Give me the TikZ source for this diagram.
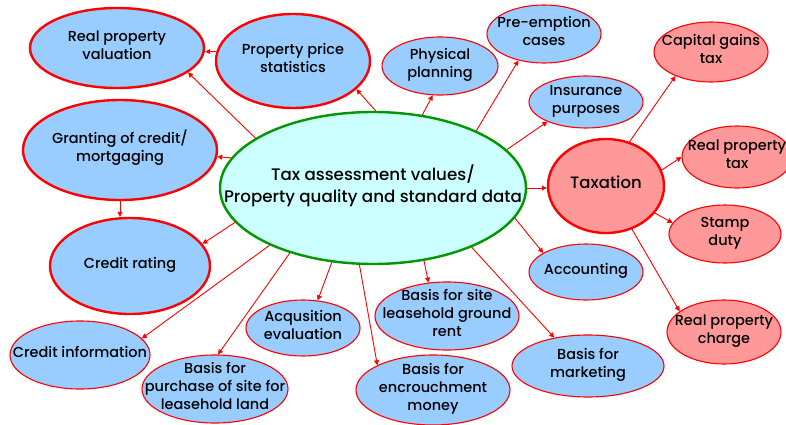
\documentclass[tikz,border=0pt]{standalone}
\usepackage{fontspec}
\setmainfont{Poppins}[UprightFont=*-Medium]
\usetikzlibrary{shapes.geometric,arrows.meta}
\definecolor{bluefill}{RGB}{153,204,255}
\definecolor{pinkfill}{RGB}{255,153,153}
\definecolor{cyanfill}{RGB}{204,255,255}
\definecolor{edgered}{RGB}{255,0,0}
\definecolor{edgegreen}{RGB}{0,150,0}
% zero-size centred label, so the ellipse keeps its given size
\newcommand\lbl[1]{\makebox[0pt]{\raisebox{-0.3ex}[0pt][0pt]{\begin{tabular}{@{}c@{}}#1\end{tabular}}}}
\tikzset{
  x=1pt, y=-1pt,
  sz/.style 2 args={minimum width=#1pt, minimum height=#2pt},
  bubble/.style={ellipse, inner sep=0pt, draw=edgered, line width=1.1pt,
    font=\fontsize{14.5}{18}\selectfont},
  blue/.style={bubble, fill=bluefill},
  pink/.style={bubble, fill=pinkfill},
  heavy/.style={line width=2.4pt},
  hub/.style={ellipse, inner sep=0pt, draw=edgegreen, fill=cyanfill, line width=2.4pt,
    font=\fontsize{16.7}{22}\selectfont},
  arr/.style={draw=edgered, line width=0.9pt, -{Triangle[length=5pt,width=5pt]}},
}
\begin{document}
\begin{tikzpicture}
\useasboundingbox (0,0) rectangle (786,425);
\fill[white] (0,0) rectangle (786,425);

% central data node
\node[hub, sz={306}{152}] (c) at (373,188) {\lbl{Tax assessment values/\\Property quality and standard data}};

% left side
\node[blue, heavy, sz={174}{80}] (rpv) at (117,48) {\lbl{Real property\\valuation}};
\node[blue, heavy, sz={154}{94}] (pps) at (293,61) {\lbl{Property price\\statistics}};
\node[blue, heavy, sz={194}{100}] (g) at (120,150) {\lbl{Granting of credit/\\mortgaging}};
\node[blue, heavy, sz={160}{96}] (cr) at (130,266) {\lbl{Credit rating}};
\node[blue, sz={140}{68}] (ci) at (80,355) {\lbl{Credit information}};
\node[blue, sz={146}{68}] (bp) at (215,389) {\lbl{Basis for\\purchase of site for\\leasehold land}};
\node[blue, sz={114}{56}] (acq) at (303,328) {\lbl{Acqusition\\evaluation}};
\node[blue, sz={154}{70}] (enc) at (433,390) {\lbl{Basis for\\encrouchment\\money}};
\node[blue, sz={144}{68}] (bsl) at (447,316) {\lbl{Basis for site\\leasehold ground\\rent}};
\node[blue, sz={152}{62}] (bm) at (588,366) {\lbl{Basis for\\marketing}};
\node[blue, sz={114}{56}] (acc) at (586,272) {\lbl{Accounting}};

% upper row
\node[blue, sz={116}{58}] (pp) at (440,66) {\lbl{Physical\\planning}};
\node[blue, sz={114}{58}] (pe) at (544,34) {\lbl{Pre-emption\\cases}};
\node[blue, sz={114}{52}] (ins) at (586,102) {\lbl{Insurance\\purposes}};

% taxation group
\node[pink, heavy, sz={116}{94}, font=\fontsize{16.5}{20}\selectfont] (tax) at (606,186) {\lbl{Taxation}};
\node[pink, sz={114}{60}] (cg) at (711,52) {\lbl{Capital gains\\tax}};
\node[pink, sz={110}{62}] (rpt) at (737,157) {\lbl{Real property\\tax}};
\node[pink, sz={112}{58}] (sd) at (725,234) {\lbl{Stamp\\duty}};
\node[pink, sz={114}{64}] (rpc) at (724,332) {\lbl{Real property\\charge}};

% connectors
\draw[arr] (c.157) -- (rpv.341);
\draw[arr] (c.88) -- (pps.336);
\draw[arr] (pps.173) -- (pps.173 -| rpv.east);
\draw[arr] (c.168) -- (g.356);
\draw[arr] (g.south) -- (g.south |- cr.north);
\draw[arr] (c.194) -- (cr.17);
\draw[arr] (c.209) -- (ci.15);
\draw[arr] (c.218) -- (bp.85);
\draw[arr] (c.241) -- (acq.62);
\draw[arr] (c.260) -- (enc.156);
\draw[arr] (c.305) -- (bsl.119);
\draw[arr] (c.329) -- (bm.140);
\draw[arr] (c.348) -- (acc.156);
\draw[arr] (c.east) -- (c.east -| tax.west);
\draw[arr] (c.56) -- (pp.256);
\draw[arr] (c.29) -- (pe.226);
\draw[arr] (c.16) -- (ins.207);
\draw[arr] (tax.62) -- (cg.214);
\draw[arr] (tax.16) -- (rpt.180);
\draw[arr] (tax.331) -- (sd.168);
\draw[arr] (tax.301) -- (rpc.155);
\end{tikzpicture}
\end{document}
